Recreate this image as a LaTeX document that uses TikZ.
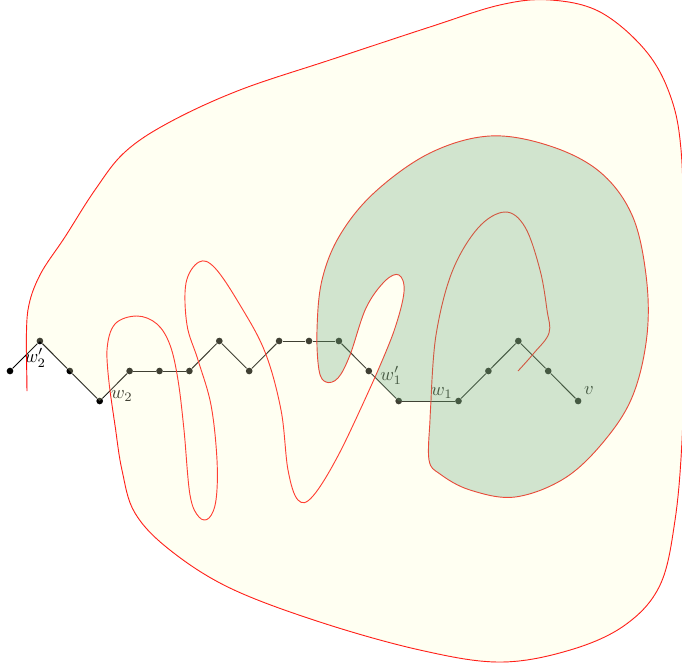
\documentclass[tikz,border=0pt]{standalone}
\usetikzlibrary{positioning}
\definecolor{paleyellow}{RGB}{255,255,204}
\definecolor{regiongreen}{RGB}{86,157,110}

% pieces of the red curve, reused for the fills
\newcommand\rimpath{-- plot[smooth,tension=0.6] coordinates {(26.5,354.4) (28,310) (40,275) (65,237) (95,190) (125,152) (170,122) (240,90) (330,60) (430,27) (500,5) (550,0) (600,12) (645,50) (670,95) (681,150) (684,250) (684,350) (682,440) (675,520) (660,585) (625,625) (570,650) (500,662) (420,650) (320,622) (230,588) (170,550) (135,513) (122,470) (115,425) (110,390.7)}}
\newcommand\wigglepath{-- plot[smooth,tension=0.6] coordinates {(110,390.7) (107,350) (115,324) (137,316) (157,324) (170,345) (178,380) (184,430) (190,495) (199,517) (209,518) (216,500) (217,460) (211,405) (198,360) (187,325) (186,283) (199,262) (215,268) (240,305) (265,352) (281,410) (288,470) (298,500) (313,496) (340,452) (375,377.2)}}
\newcommand\cpath{-- plot[smooth,tension=0.6] coordinates {(375,377.2) (394,331) (404,292) (399,275) (385,281) (366,308) (350,355) (338,378) (326,382) (319,370) (317,330) (322,280) (340,235) (375,192) (430,153) (490,136) (550,146) (600,172) (632,215) (646,275) (647,335) (633,395) (605,440) (565,478) (515,497) (470,490) (440,474) (429,460) (430,420) (431,401)}}
\newcommand\hookpath{-- plot[smooth,tension=0.6] coordinates {(431,401) (436,335) (452,272) (478,228) (505,212) (525,227) (540,270) (547,310) (549,333) (534,353) (518,371)}}

\begin{document}
\begin{tikzpicture}[x=0.019cm,y=-0.019cm,
    vtx/.style={circle,fill=black,inner sep=0pt,minimum size=3.6pt},
    lbl/.style={inner sep=1pt},
    walk/.style={line width=0.5pt},
    boundary/.style={red,line width=0.5pt},
    yellowfill/.style={fill=paleyellow,fill opacity=0.25},
    greenfill/.style={fill=regiongreen,fill opacity=0.27}]
  \useasboundingbox (0,0) rectangle (682,665);

  % the walk
  \foreach \k/\h in {0/1,1/0,2/1,3/2,4/1,5/1,6/1,7/0,8/1,9/0,10/0,11/0,12/1,13/2,15/2,16/1,17/0,18/1,19/2}
    \node[vtx] (n\k) at ({10+29.9*\k},{341+30*\h}) {};
  \foreach \a/\b in {0/1,1/2,2/3,3/4,4/5,5/6,6/7,7/8,8/9,9/10,10/11,11/12,12/13,13/15,15/16,16/17,17/18,18/19}
    \draw[walk] (n\a) -- (n\b);

  \node[lbl,below=1pt of n1,xshift=-2.5pt] (lw2p) {$w_2'$};
  \node[lbl,right=3pt of n3,yshift=2.5pt] (lw2) {$w_2$};
  \node[lbl,right=3pt of n12,yshift=-2.5pt] (lw1p) {$w_1'$};
  \node[lbl,left=0pt of n15,yshift=4.5pt] (lw1) {$w_1$};
  \node[lbl,right=0pt of n19,yshift=5.5pt] (lv) {$v$};

  % red curve
  \draw[boundary] (27,391) -- (26.5,354.4);
  \draw[boundary] (26.5,354.4) \rimpath \wigglepath \cpath \hookpath;

  % regions
  \fill[yellowfill] (26.5,354.4) \rimpath -- (n3.center) -- (n2.center) -- (n1.center) -- cycle;
  \fill[greenfill] (375,377.2) \cpath -- (n13.center) -- cycle;
\end{tikzpicture}
\end{document}
